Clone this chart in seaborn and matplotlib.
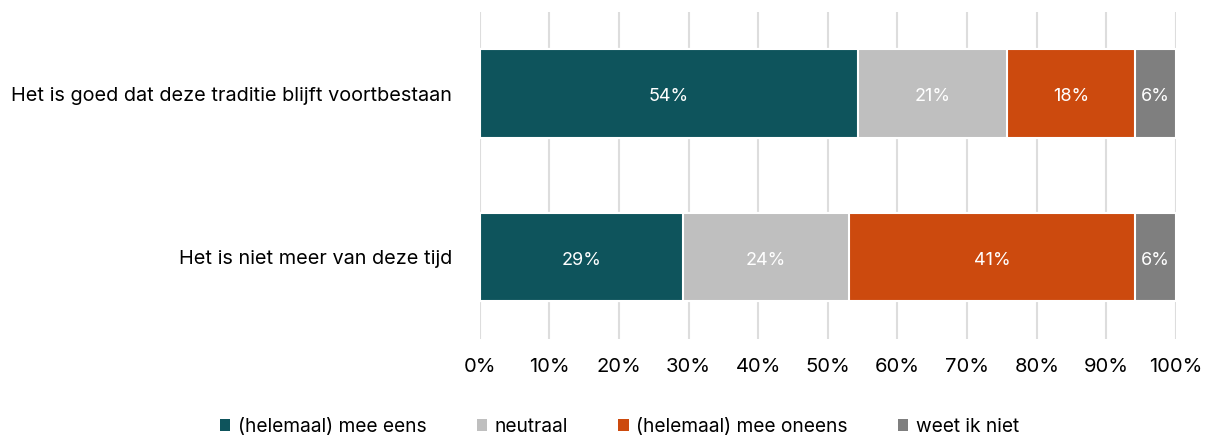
import numpy as np
import pandas as pd
import matplotlib
matplotlib.use("Agg")
import matplotlib.pyplot as plt
import seaborn as sns
from matplotlib.patches import Patch

categories = ["Het is goed dat deze traditie blijft voortbestaan",
              "Het is niet meer van deze tijd"]
series = ["(helemaal) mee eens", "neutraal", "(helemaal) mee oneens", "weet ik niet"]
eens = [54.3, 29.2]
neutraal = [21.4, 23.8]
oneens = [18.4, 41.1]
weet_niet = [5.9, 5.9]
labels = [["54%", "21%", "18%", "6%"], ["29%", "24%", "41%", "6%"]]
colors = ["#0E545C", "#BFBFBF", "#CC4A0E", "#7F7F7F"]

sns.set_theme(style="white")
plt.rcParams["font.family"] = ["Inter", "DejaVu Sans"]

vals = np.array([eens, neutraal, oneens, weet_niet])
cum = vals.cumsum(axis=0)

fig = plt.figure(figsize=(12.05, 4.37), dpi=100)
ax = fig.add_axes([0.398, 0.225, 0.578, 0.748])

# draw cumulative bars from the longest down, so each segment shows
for i in range(len(series) - 1, -1, -1):
    df = pd.DataFrame({"cat": categories, "val": cum[i]})
    sns.barplot(data=df, x="val", y="cat", color=colors[i], orient="h",
                width=0.54, edgecolor="white", linewidth=1.5, ax=ax,
                saturation=1, zorder=2)

for j in range(len(categories)):
    for i in range(len(series)):
        x = cum[i][j] - vals[i][j] / 2
        ax.text(x, j + 0.02, labels[j][i], ha="center", va="center",
                color="white", fontsize=13, zorder=3)

ax.set_xlim(0, 100)
ax.set_ylim(1.5, -0.5)
ax.set_xticks(range(0, 101, 10))
ax.set_xticklabels([f"{t}%" for t in range(0, 101, 10)])
ax.xaxis.grid(True, color="#DDDDDD", linewidth=1.5, zorder=0)
ax.set_axisbelow(True)
for s in ax.spines.values():
    s.set_visible(False)
ax.set_xlabel("")
ax.set_ylabel("")
ax.tick_params(axis="x", length=0, pad=14, labelsize=14.5, labelcolor="black")
ax.tick_params(axis="y", length=0, pad=20, labelsize=14.3, labelcolor="black")

handles = [Patch(facecolor=c, edgecolor="none") for c in colors]
fig.legend(handles, series, loc="center", bbox_to_anchor=(0.514, 0.023),
           ncol=4, frameon=False, fontsize=13.8, handlelength=0.55,
           handleheight=0.55, handletextpad=0.4, columnspacing=2.6,
           labelcolor="black")

fig.savefig("out.png", dpi=100)
